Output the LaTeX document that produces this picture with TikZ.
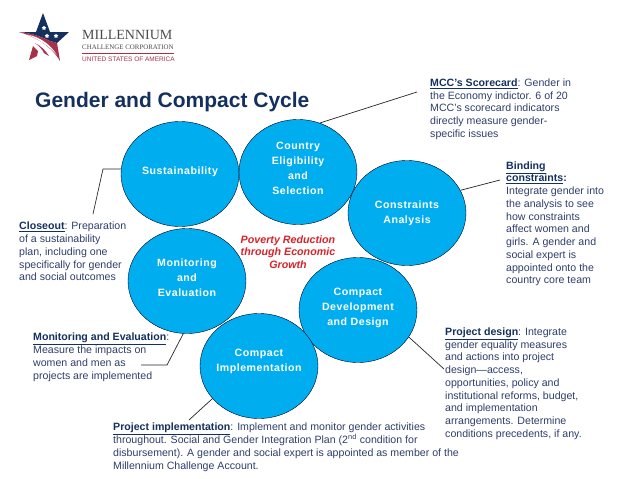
\documentclass[tikz,border=0pt]{standalone}
\usepackage{fontspec}
\setmainfont{Liberation Sans}
\newfontfamily\logofont{Liberation Serif}
\usetikzlibrary{shapes.geometric}
\definecolor{stagefill}{HTML}{00AEEF}
\definecolor{notecol}{HTML}{2F3F6B}
\definecolor{titlecol}{HTML}{14305F}
\definecolor{logored}{HTML}{A8304A}
\definecolor{povertycol}{HTML}{D8232A}
\tikzset{
    stage/.style={ellipse, draw=black!85!blue, fill=stagefill, minimum width=118pt, minimum height=105pt, inner sep=-14pt, align=center, text=white, font=\fontsize{10.6}{15}\selectfont\bfseries\addfontfeature{LetterSpace=5}},
    note/.style={anchor=north west, align=left, inner sep=0pt, text=notecol, font=\fontsize{10.6}{12.75}\selectfont},
    leader/.style={draw=black!85, line width=0.7pt},
}
\newcommand{\notehead}[1]{\textcolor{titlecol}{\smash{\underline{\textbf{#1}}}}}
\begin{document}
\begin{tikzpicture}[x=1pt, y=-1pt]
    \useasboundingbox (0,0) rectangle (638,479);
    \fill[white] (0,0) rectangle (638,479);

    % --- Logo ---
    \fill[titlecol] (43,13) -- (50,32) -- (69,32) -- (57,43) -- (50,41) .. controls (40,36) and (30,33) .. (19,32) -- (36,32) -- cycle;
    \fill[logored] (19,32) .. controls (30,33) and (40,36) .. (50,41) -- (57,43) -- (60,61) .. controls (52,47) and (36,37) .. (19,32);
    \fill[white] (27,34.5) .. controls (40,37) and (50,44) .. (57,55) .. controls (49,46) and (39,39.5) .. (27,34.5);
    \fill[white] (32,37.5) .. controls (41,41) and (47,46) .. (52,52) .. controls (46,47) and (40,42.5) .. (32,37.5);
    \fill[logored] (35,43) .. controls (41,46) and (46,51) .. (49,56) -- (44,53) .. controls (42,49) and (39,46) .. (35,43);
    \fill[logored] (33,46) -- (38,51) -- (37,56) -- (29,60) -- cycle;
    \foreach \sx/\sy in {44/28,47/36,56/36} {
        \node[star, fill=white, inner sep=0pt, minimum size=4.5pt] (logostar\sx) at (\sx,\sy) {};
    }
    \node[anchor=west, inner sep=0pt, text=black!70, font=\logofont\fontsize{14}{14}\selectfont] (logoname) at (82,35) {MILLENNIUM};
    \node[anchor=west, inner sep=0pt, text=black!70, font=\logofont\fontsize{6.9}{7}\selectfont] (logosub) at (82,47) {CHALLENGE CORPORATION};
    \draw[logored, line width=0.6pt] (82,53.5) -- (174,53.5);
    \node[anchor=west, inner sep=0pt, text=logored, font=\fontsize{6.5}{6}\selectfont] (logousa) at (82,59.5) {UNITED STATES OF AMERICA};

    \node[anchor=west, inner sep=0pt, text=titlecol, font=\fontsize{21}{22}\selectfont\bfseries] (title) at (35,102) {Gender and Compact Cycle};

    % --- Cycle stages ---
    \node[stage] (dev) at (358,310) {Compact\\Development\\and Design\\[-9pt]};
    \node[stage] (monitor) at (187,281) {Monitoring\\and\\Evaluation\\[-9pt]};
    \node[stage] (impl) at (259,366) {Compact\\Implementation\\[-3pt]};
    \node[stage] (sust) at (180,174) {Sustainability\\[-9pt]};
    \node[stage] (country) at (298,172) {Country\\Eligibility\\and\\Selection\\[-8pt]};
    \node[stage] (constraints) at (407,213) {Constraints\\Analysis};

    \node[align=center, inner sep=0pt, text=povertycol, font=\fontsize{10.7}{12.75}\selectfont\bfseries\itshape] (poverty) at (288,252) {Poverty Reduction\\through Economic\\Growth};

    % --- Notes ---
    \node[note] (scorecard) at (430,78.5) {\notehead{MCC’s Scorecard}: Gender in\\the Economy indictor. 6 of 20\\MCC’s scorecard indicators\\directly measure gender-\\specific issues};
    \node[note] (binding) at (506,169) {\notehead{Binding}\\\notehead{constraints}\textcolor{titlecol}{\textbf{:}}\\Integrate gender into\\the analysis to see\\how constraints\\affect women and\\girls. A gender and\\social expert is\\appointed onto the\\country core team};
    \node[note] (closeout) at (19,222) {\notehead{Closeout}: Preparation\\of a sustainability\\plan, including one\\specifically for gender\\and social outcomes};
    \node[note] (evaluation) at (33,335) {\notehead{Monitoring and Evaluation}:\\Measure the impacts on\\women and men as\\projects are implemented};
    \node[note] (design) at (445,328) {\notehead{Project design}: Integrate\\gender equality measures\\and actions into project\\design—access,\\opportunities, policy and\\institutional reforms, budget,\\and implementation\\arrangements. Determine\\conditions precedents, if any.};
    \node[note] (project) at (113,423) {\notehead{Project implementation}: Implement and monitor gender activities\\throughout. Social and Gender Integration Plan (2\textsuperscript{nd} condition for\\disbursement). A gender and social expert is appointed as member of the\\Millennium Challenge Account.};

    % --- Leader lines ---
    \coordinate (scorecardend) at (417,92);
    \coordinate (bindingend) at (500,180);
    \coordinate (closeoutbend) at (103,169);
    \coordinate (closeoutend) at (93,214);
    \coordinate (evalbend) at (167,365);
    \coordinate (evalend) at (141,365);
    \coordinate (designend) at (444,369);
    \coordinate (projectend) at (189,420);

    \draw[leader] (country.66) -- (scorecardend);
    \draw[leader] (constraints.23) -- (bindingend);
    \draw[leader] (sust.west |- closeoutbend) -- (closeoutbend) -- (closeoutend);
    \draw[leader] (monitor.-94) -- (evalbend) -- (evalend);
    \draw[leader] (dev.-28) -- (designend);
    \draw[leader] (impl.215) -- (projectend);
\end{tikzpicture}
\end{document}
